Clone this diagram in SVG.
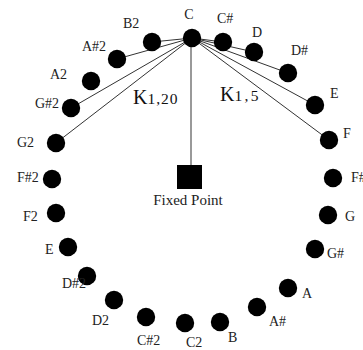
<svg xmlns="http://www.w3.org/2000/svg" width="363" height="350" viewBox="0 0 363 350">
<style>
text{font-family:"Liberation Serif","Times New Roman",serif;font-size:14px;fill:#222}
.dot{fill:#000}
.edge{stroke:#333;stroke-width:1;fill:none}
.fix{stroke:#999;stroke-width:2;fill:none}
.k{font-size:20px;fill:#111}
.sub{font-size:15.5px}
</style>
<rect width="363" height="350" fill="#fff"/>
<g id="connectors">
<line class="fix" x1="191" y1="38" x2="191" y2="165"/>
<line class="edge" x1="192" y1="38" x2="152" y2="42"/>
<line class="edge" x1="192" y1="38" x2="117" y2="59"/>
<line class="edge" x1="192" y1="38" x2="71" y2="108"/>
<line class="edge" x1="192" y1="38" x2="56" y2="143"/>
<line class="edge" x1="192" y1="38" x2="223" y2="42"/>
<line class="edge" x1="192" y1="38" x2="254" y2="52"/>
<line class="edge" x1="192" y1="38" x2="288" y2="73"/>
<line class="edge" x1="192" y1="38" x2="315" y2="105"/>
<line class="edge" x1="192" y1="38" x2="329" y2="140"/>
</g>
<g id="fixed-point"><rect x="177" y="165" width="25" height="24" fill="#000"/><text x="188" y="205" text-anchor="middle" style="font-size:15px">Fixed Point</text></g>
<g id="k120"><text class="k" x="133" y="104">K<tspan class="sub" textLength="30" lengthAdjust="spacing">1,20</tspan></text></g>
<g id="k15"><text class="k" x="220" y="101">K<tspan class="sub" textLength="24" lengthAdjust="spacing">1,5</tspan></text></g>
<g id="n-C"><circle class="dot" cx="192" cy="38" r="9.2"/><text x="189" y="19" text-anchor="middle">C</text></g>
<g id="n-Cs"><circle class="dot" cx="223" cy="42" r="9.2"/><text x="217" y="23">C#</text></g>
<g id="n-D"><circle class="dot" cx="254" cy="52" r="9.2"/><text x="252" y="37">D</text></g>
<g id="n-Ds"><circle class="dot" cx="288" cy="73" r="9.2"/><text x="291" y="55">D#</text></g>
<g id="n-E"><circle class="dot" cx="315" cy="105" r="9.2"/><text x="330" y="98">E</text></g>
<g id="n-F"><circle class="dot" cx="329" cy="140" r="9.2"/><text x="343" y="138">F</text></g>
<g id="n-Fs"><circle class="dot" cx="333" cy="178" r="9.2"/><text x="351" y="182">F#</text></g>
<g id="n-G"><circle class="dot" cx="328" cy="215" r="9.2"/><text x="345" y="221">G</text></g>
<g id="n-Gs"><circle class="dot" cx="315" cy="249" r="9.2"/><text x="327" y="258">G#</text></g>
<g id="n-A"><circle class="dot" cx="288" cy="288" r="9.2"/><text x="302" y="298">A</text></g>
<g id="n-As"><circle class="dot" cx="257" cy="307" r="9.2"/><text x="269" y="326">A#</text></g>
<g id="n-B"><circle class="dot" cx="220" cy="322" r="9.2"/><text x="228" y="342">B</text></g>
<g id="n-C2"><circle class="dot" cx="185" cy="323" r="9.2"/><text x="186" y="347">C2</text></g>
<g id="n-Cs2"><circle class="dot" cx="146" cy="317" r="9.2"/><text x="137" y="345">C#2</text></g>
<g id="n-D2"><circle class="dot" cx="114" cy="300" r="9.2"/><text x="92" y="325">D2</text></g>
<g id="n-Ds2"><circle class="dot" cx="87" cy="276" r="9.2"/><text x="62" y="288">D#2</text></g>
<g id="n-E2"><circle class="dot" cx="68" cy="247" r="9.2"/><text x="45" y="254">E</text></g>
<g id="n-F2"><circle class="dot" cx="56" cy="213" r="9.2"/><text x="23" y="221">F2</text></g>
<g id="n-Fs2"><circle class="dot" cx="52" cy="179" r="9.2"/><text x="17" y="182">F#2</text></g>
<g id="n-G2"><circle class="dot" cx="56" cy="143" r="9.2"/><text x="17" y="147">G2</text></g>
<g id="n-Gs2"><circle class="dot" cx="71" cy="108" r="9.2"/><text x="35" y="108">G#2</text></g>
<g id="n-A2"><circle class="dot" cx="91" cy="81" r="9.2"/><text x="50" y="79">A2</text></g>
<g id="n-As2"><circle class="dot" cx="117" cy="59" r="9.2"/><text x="82" y="51">A#2</text></g>
<g id="n-B2"><circle class="dot" cx="152" cy="42" r="9.2"/><text x="123" y="28">B2</text></g>
</svg>
